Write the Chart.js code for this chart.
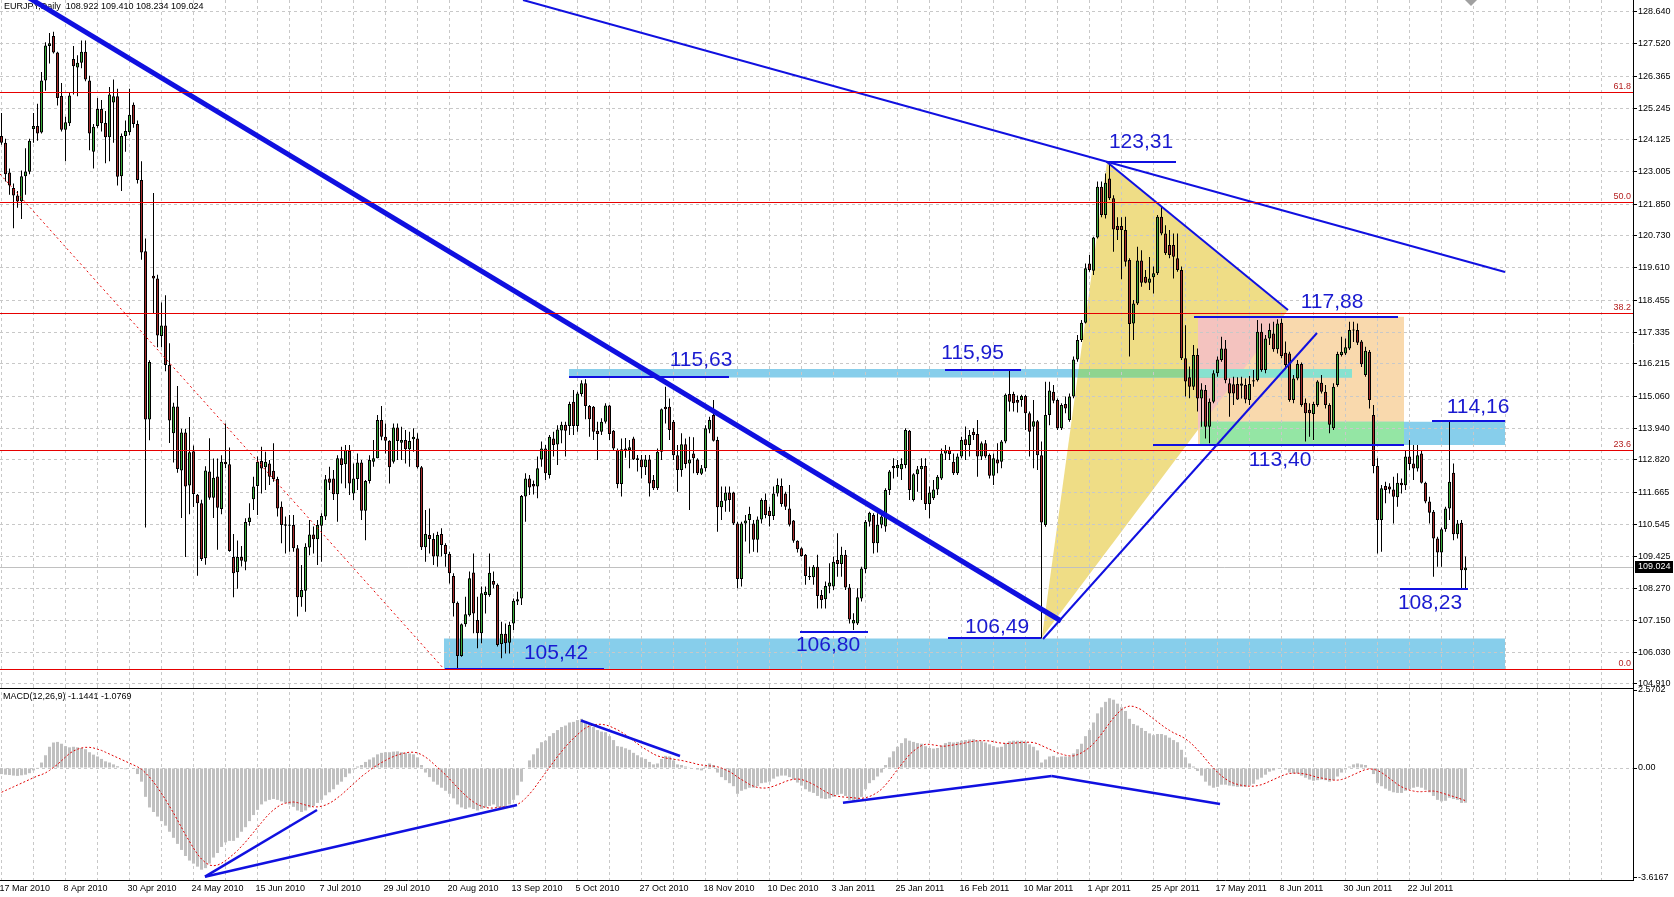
<!DOCTYPE html>
<html><head><meta charset="utf-8">
<script src="https://cdn.jsdelivr.net/npm/chart.js@4.4.1/dist/chart.umd.min.js"></script>
<style>
html,body{margin:0;padding:0;background:#fff;}
#wrap{position:relative;width:1674px;height:897px;overflow:hidden;background:#fff;}
#c1{position:absolute;left:0;top:0;}
#c2{position:absolute;left:0;top:676px;}
</style></head><body><div id="wrap"><canvas id="c1" width="1674" height="697"></canvas><canvas id="c2" width="1674" height="221"></canvas></div>
<script>
// ---------- tick labels ----------
const dateLabels = ['17 Mar 2010','8 Apr 2010','30 Apr 2010','24 May 2010','15 Jun 2010','7 Jul 2010','29 Jul 2010','20 Aug 2010','13 Sep 2010','5 Oct 2010','27 Oct 2010','18 Nov 2010','10 Dec 2010','3 Jan 2011','25 Jan 2011','16 Feb 2011','10 Mar 2011','1 Apr 2011','25 Apr 2011','17 May 2011','8 Jun 2011','30 Jun 2011','22 Jul 2011'];
const priceTicks = [128.640,127.520,126.365,125.245,124.125,123.005,121.850,120.730,119.610,118.455,117.335,116.215,115.060,113.940,112.820,111.665,110.545,109.425,108.270,107.150,106.030,104.910];
const macdTicks = [2.5702, 0, -3.6167];
const macdTickText = ['2.5702','0.00','-3.6167'];
const fibLevels = [125.82,121.93,118.01,113.16,105.43];
const fibNames = ['61.8','50.0','38.2','23.6','0.0'];
const lastPrice = 109.024;

// ---------- daily candles (bar index 0 = 17 Mar 2010) ----------
const opens = [
124.26,124.02,122.97,122.42,122.16,121.96,122.84,123.00,124.51,124.61,
124.38,126.22,127.44,127.79,127.21,125.67,124.48,124.71,126.98,126.68,
126.85,127.24,126.22,123.70,124.61,125.21,124.72,124.22,125.44,125.66,
122.84,124.26,124.39,125.36,124.68,122.71,120.19,114.25,119.33,119.23,
117.20,117.57,116.17,113.76,114.71,112.45,113.79,111.92,113.13,111.59,
111.29,109.35,112.41,111.49,112.24,111.09,112.76,112.67,109.39,108.86,
109.39,109.23,110.63,111.43,111.90,112.78,112.56,112.70,112.44,112.15,
111.17,110.55,110.52,110.52,109.70,107.97,108.20,109.73,110.19,110.02,
110.50,110.82,112.17,112.17,111.61,112.88,112.67,113.15,111.64,112.15,
112.73,111.03,112.08,112.76,112.88,114.23,113.64,113.50,112.76,113.97,
113.43,113.53,113.20,113.55,113.58,112.56,109.74,110.17,110.03,109.41,
110.21,109.82,109.50,108.72,107.78,105.90,107.02,107.34,108.85,107.17,
106.70,108.05,108.05,108.55,108.41,106.32,106.68,106.37,107.05,107.82,
107.93,111.53,112.17,111.97,111.88,112.84,113.23,112.29,113.58,113.37,
113.86,114.06,114.02,114.88,114.02,115.15,115.53,114.73,114.70,113.85,
113.82,114.17,114.74,113.85,113.17,111.97,113.23,113.17,113.58,112.88,
112.84,112.56,112.84,112.11,111.82,113.11,114.70,114.70,114.17,112.99,
112.47,113.38,112.70,113.05,112.84,112.33,112.53,113.90,114.41,113.53,
111.15,111.38,111.67,111.67,110.58,108.62,110.58,110.70,110.58,110.00,
110.72,111.41,111.03,110.84,111.64,111.90,111.64,111.11,110.68,109.97,
109.70,109.47,108.72,108.68,109.05,108.05,107.90,108.35,108.35,109.29,
109.15,109.47,108.32,107.05,107.05,107.93,108.96,110.64,110.88,109.88,
110.53,110.47,111.76,112.61,112.53,112.49,112.64,113.85,111.41,112.32,
112.49,112.61,111.27,111.47,111.78,112.17,113.05,113.17,112.76,112.35,
112.94,113.55,113.35,113.82,113.74,112.94,113.41,113.00,112.26,112.84,
112.76,113.47,115.15,115.15,114.94,114.94,115.08,114.47,113.99,114.19,
112.99,110.52,114.41,115.23,114.94,113.94,114.80,114.23,115.06,116.37,
117.06,117.67,119.76,119.50,120.68,122.47,121.47,122.76,122.06,121.08,
121.08,120.94,119.88,117.64,118.35,119.86,119.29,119.08,119.27,119.41,
121.41,120.82,120.41,120.41,119.94,119.53,116.41,115.74,115.41,116.53,
114.99,115.29,113.99,114.88,115.88,116.35,116.76,115.53,115.49,115.50,
115.52,115.47,114.94,115.64,115.64,117.35,116.00,117.11,117.29,116.73,
117.67,116.61,116.58,114.94,115.70,116.21,114.84,114.59,114.44,114.76,
115.55,115.23,114.76,113.94,115.47,116.53,116.58,116.76,117.43,117.41,
117.00,115.82,116.64,114.41,112.61,110.70,111.90,111.88,111.78,111.50,
112.02,111.93,112.94,112.70,112.52,113.05,112.02,111.35,110.99,110.05,
109.55,110.37,111.11,112.37,110.20,110.60,108.922];
const highs = [
125.07,124.16,123.11,122.58,122.32,123.04,123.83,124.16,125.07,125.40,
126.52,127.57,127.90,127.94,127.24,126.13,124.94,125.80,127.44,127.11,
127.63,127.63,126.39,124.68,125.60,125.53,125.14,125.99,126.26,125.93,
124.35,124.81,125.93,125.44,124.81,123.37,120.64,116.34,122.25,119.36,
118.38,118.64,116.94,114.84,115.43,113.92,113.92,114.34,113.33,111.62,
111.42,112.60,113.59,112.87,112.87,112.99,114.11,113.26,110.21,109.98,
109.78,110.76,111.29,112.23,112.94,113.29,113.11,112.82,113.41,112.23,
111.35,110.82,110.88,110.88,109.82,109.11,109.88,110.70,110.47,110.70,
110.94,112.29,112.58,112.47,112.99,113.29,113.35,113.35,112.70,113.05,
112.82,112.11,112.99,113.53,114.41,114.73,114.11,113.52,114.11,114.11,
113.99,113.88,113.82,113.94,113.76,112.61,111.05,111.11,110.23,110.29,
110.41,109.88,109.58,108.82,107.82,107.05,107.99,108.88,109.52,107.99,
108.35,108.35,109.52,108.88,108.46,107.11,107.05,107.11,107.93,108.17,
111.58,112.35,112.29,112.10,112.94,113.47,113.35,113.70,113.82,114.05,
114.17,114.17,114.88,115.29,115.23,115.64,115.67,114.76,114.73,114.17,
114.29,114.82,114.76,113.88,113.23,113.58,113.60,113.53,113.64,113.00,
113.00,113.00,113.00,112.29,113.23,114.64,115.41,114.99,114.23,113.35,
113.76,113.58,113.64,113.62,112.88,112.64,114.05,114.35,114.94,113.64,
111.88,111.88,111.88,111.70,110.64,110.64,110.88,111.17,110.70,110.82,
111.47,111.64,111.17,111.88,112.17,112.17,111.70,111.94,110.70,109.99,
109.74,109.50,109.05,109.11,109.47,108.23,108.53,109.17,109.41,110.23,
109.76,109.64,108.44,107.41,108.29,109.05,110.70,110.99,110.94,110.94,
110.94,111.82,112.47,112.88,112.82,112.88,113.94,113.88,112.35,112.61,
112.88,112.88,111.88,112.11,112.29,113.23,113.35,113.29,113.05,113.05,
113.64,114.00,113.88,113.94,114.23,113.47,113.53,113.05,113.05,113.41,
113.53,115.17,115.99,115.23,115.10,115.12,115.12,114.53,114.94,114.23,
113.47,115.58,115.58,115.47,114.99,114.82,115.06,115.17,116.47,117.23,
117.76,119.76,120.06,120.70,122.65,122.65,122.94,123.31,122.17,121.39,
121.39,121.41,119.94,118.47,120.35,120.23,119.53,119.99,119.65,121.47,
121.76,121.11,120.94,120.82,120.82,119.65,117.58,116.12,116.88,116.76,
115.53,115.47,114.99,115.99,116.47,117.17,117.06,115.70,115.76,115.74,
115.76,115.70,115.79,116.00,117.76,117.64,117.23,117.64,117.70,117.79,
117.82,117.00,116.64,115.82,116.35,116.26,114.99,114.82,114.88,115.64,
115.82,115.47,114.82,115.53,116.64,117.17,117.11,117.70,117.70,117.64,
117.06,116.82,116.70,114.76,112.88,111.94,112.05,112.00,112.23,112.35,
112.17,113.17,113.53,113.35,113.35,113.17,112.05,111.52,111.05,110.11,
110.44,111.17,114.16,112.70,110.70,110.70,109.410];
const lows = [
123.95,122.65,122.19,121.00,121.73,121.33,122.19,122.91,124.02,124.09,
124.35,125.86,126.82,127.17,125.34,124.42,123.37,124.61,125.73,125.66,
126.65,126.19,123.76,123.11,124.55,124.42,123.30,123.37,124.02,122.51,
122.32,123.70,124.29,124.55,122.58,119.89,110.44,113.52,117.99,116.80,
116.80,115.95,113.42,112.73,112.37,110.77,109.39,110.90,111.16,108.73,
109.25,109.12,111.42,110.77,109.65,110.90,112.54,109.58,107.97,108.27,
109.06,108.93,110.50,111.05,110.88,111.64,111.76,111.94,112.05,110.82,
109.88,109.52,109.58,109.58,107.29,107.64,107.46,109.46,109.52,109.11,
109.23,110.70,111.76,111.41,110.64,111.99,111.82,111.58,111.41,111.76,
110.70,109.99,111.99,112.58,112.88,113.52,113.05,111.99,112.70,112.82,
112.82,112.70,112.58,113.11,112.52,109.64,109.23,109.52,109.11,109.05,
109.41,109.05,108.46,107.29,105.43,105.87,106.93,107.29,106.70,106.17,
106.35,107.40,107.99,108.29,106.23,105.82,105.99,105.99,106.82,107.70,
107.70,110.64,111.58,111.60,111.47,112.58,112.11,112.17,112.94,112.64,
113.41,112.94,113.70,113.70,113.82,115.06,114.26,113.64,113.53,112.82,
113.70,114.11,113.53,113.17,111.82,111.53,112.90,112.53,112.82,112.41,
112.17,112.29,111.53,111.76,111.76,112.82,114.11,113.53,112.82,111.70,
112.23,112.53,111.05,112.35,112.29,112.29,112.41,113.76,113.47,110.29,
110.70,110.99,110.99,110.52,108.29,108.35,109.94,109.52,109.58,109.55,
110.58,110.76,110.47,110.70,111.53,111.17,111.05,110.47,109.90,109.55,
109.40,108.41,108.58,108.41,107.58,107.58,107.58,108.11,108.23,108.70,
108.70,108.23,107.05,106.82,106.99,107.82,108.82,110.47,109.52,109.55,
110.41,110.29,111.58,112.17,112.23,112.11,112.53,111.41,111.35,111.70,
111.41,111.05,110.76,111.41,111.58,112.11,112.82,112.82,112.29,112.29,
112.88,112.82,112.94,113.53,112.23,112.82,112.88,112.17,111.94,112.35,
112.53,113.41,114.53,114.53,114.50,114.70,113.88,112.94,112.53,112.47,
106.52,110.46,114.05,114.82,113.88,113.88,114.47,114.17,115.00,116.29,
116.99,117.64,119.47,119.35,120.64,121.39,121.35,122.00,120.17,120.59,
119.20,119.65,116.47,117.06,118.29,118.94,119.06,118.82,118.70,119.35,
120.76,120.06,119.94,119.23,119.47,116.35,115.06,115.00,115.29,114.53,
113.99,113.58,113.41,114.82,115.76,116.29,115.53,114.35,114.76,114.94,
114.99,114.82,114.76,115.41,115.59,115.94,115.88,116.88,116.64,116.58,
116.41,116.06,114.88,114.82,115.64,114.70,113.47,113.64,113.53,114.70,
115.17,114.64,113.76,113.88,115.41,116.47,116.53,116.70,116.99,116.88,
116.10,115.76,114.64,112.35,109.52,109.58,111.29,111.64,110.58,111.17,
111.64,111.76,112.47,112.11,112.41,111.99,111.29,110.58,108.70,109.05,
109.05,110.29,110.70,109.99,110.05,108.23,108.234];
const closes = [
124.02,122.91,122.51,122.16,121.95,122.84,123.01,124.09,124.61,124.35,
126.22,127.46,127.54,127.21,125.60,124.48,124.75,125.69,126.72,126.85,
127.24,126.26,124.35,124.59,125.21,124.71,124.22,125.73,125.66,122.82,
124.26,124.44,125.01,124.68,122.71,120.15,114.25,116.28,119.23,117.22,
117.57,116.17,114.21,114.71,112.50,113.79,111.88,113.09,111.62,111.29,
109.32,112.45,111.49,112.19,111.13,112.76,112.67,109.61,108.82,109.39,
109.26,110.63,110.79,111.88,112.76,112.52,112.76,112.23,112.15,111.11,
110.52,110.50,110.50,109.70,107.97,108.23,109.76,110.19,110.02,110.52,
110.84,112.14,112.02,111.61,112.88,112.64,113.17,111.99,112.17,112.73,
111.03,112.08,112.82,112.88,114.23,113.64,113.50,112.56,113.97,113.49,
113.53,113.20,113.49,113.64,112.56,109.74,110.21,110.03,109.41,110.17,
109.82,109.50,108.82,107.76,105.90,107.02,107.37,108.64,107.40,106.70,
108.11,108.17,108.84,108.41,106.29,106.68,106.35,106.99,107.85,107.90,
111.55,112.17,111.85,111.88,112.53,113.23,112.35,113.64,113.35,113.90,
114.06,113.85,114.80,114.02,115.17,115.53,114.73,114.26,113.82,113.74,
114.17,114.74,113.74,113.23,111.97,113.20,113.15,113.27,112.84,112.82,
112.56,112.84,111.99,111.82,113.11,114.61,114.61,113.88,112.99,112.47,
113.38,112.68,112.84,112.88,112.35,112.53,113.94,114.23,113.50,111.15,
111.38,111.67,111.41,110.58,108.62,110.58,110.68,110.91,110.00,110.72,
111.41,110.88,110.84,111.64,111.94,111.27,111.17,110.53,109.97,109.67,
109.43,108.72,108.68,109.05,108.02,107.88,108.37,108.49,109.23,109.15,
109.47,108.32,107.19,107.17,107.97,108.99,110.64,110.96,109.88,110.53,
110.82,111.76,112.41,112.53,112.64,112.68,113.88,111.76,112.32,112.49,
112.61,111.27,111.67,111.78,112.23,113.05,113.17,113.03,112.35,112.94,
113.53,113.35,113.70,113.70,112.94,113.41,112.94,112.26,112.88,112.70,
113.47,115.12,114.88,114.82,114.84,115.08,114.47,113.82,114.19,112.99,
110.61,114.41,115.27,114.91,113.94,114.76,114.64,115.06,116.37,117.06,
117.67,119.59,119.53,120.68,122.47,121.47,122.61,122.06,120.96,120.94,
120.94,119.82,117.62,118.35,119.86,119.08,119.08,119.23,119.41,121.41,
120.82,120.12,120.06,120.00,119.53,116.41,115.59,115.41,116.53,114.99,
115.31,113.99,114.88,115.88,116.37,116.76,115.64,115.17,115.17,114.96,
115.44,114.96,115.50,115.59,117.35,116.00,117.11,117.41,116.73,117.64,
116.49,116.17,114.94,115.70,116.21,114.76,114.47,114.47,114.80,115.59,
115.23,114.76,114.06,115.41,116.56,116.64,116.80,117.41,117.39,116.96,
116.20,116.68,114.94,112.61,110.70,111.82,111.76,111.78,111.52,112.02,
111.93,112.94,112.68,112.52,112.99,112.02,111.35,110.96,110.05,109.55,
110.37,111.11,112.05,110.20,110.58,108.93,109.024];

// ---------- MACD(12,26,9): main (histogram) and signal ----------
const macdMain = [
-0.20,-0.22,-0.23,-0.25,-0.26,-0.24,-0.22,-0.17,-0.08,0.02,
0.18,0.42,0.70,0.84,0.86,0.80,0.72,0.68,0.70,0.68,
0.66,0.62,0.52,0.44,0.38,0.30,0.22,0.18,0.12,0.06,
-0.02,-0.04,0.00,-0.02,-0.20,-0.45,-0.95,-1.30,-1.45,-1.60,
-1.75,-1.90,-2.10,-2.30,-2.50,-2.70,-2.90,-3.05,-3.15,-3.25,
-3.35,-3.30,-3.15,-2.95,-2.80,-2.60,-2.45,-2.40,-2.40,-2.30,
-2.10,-1.95,-1.75,-1.55,-1.38,-1.20,-1.10,-1.05,-1.02,-1.05,
-1.10,-1.15,-1.20,-1.28,-1.40,-1.45,-1.40,-1.30,-1.25,-1.15,
-1.05,-0.90,-0.80,-0.70,-0.55,-0.45,-0.30,-0.18,-0.05,0.05,
0.10,0.20,0.28,0.35,0.45,0.50,0.52,0.52,0.54,0.55,
0.52,0.50,0.48,0.45,0.35,0.10,-0.15,-0.30,-0.45,-0.55,
-0.65,-0.75,-0.85,-1.00,-1.20,-1.30,-1.35,-1.30,-1.35,-1.40,
-1.35,-1.30,-1.25,-1.20,-1.30,-1.35,-1.30,-1.20,-1.05,-0.90,
-0.45,0.00,0.25,0.45,0.65,0.85,0.90,1.05,1.15,1.25,
1.35,1.40,1.50,1.52,1.58,1.62,1.55,1.45,1.35,1.25,
1.20,1.18,1.05,0.92,0.72,0.70,0.65,0.60,0.50,0.42,
0.35,0.30,0.20,0.12,0.15,0.30,0.40,0.38,0.25,0.12,
0.10,0.05,0.02,0.00,-0.05,-0.08,0.05,0.15,0.10,-0.15,
-0.30,-0.40,-0.50,-0.60,-0.85,-0.75,-0.70,-0.65,-0.65,-0.60,
-0.50,-0.48,-0.45,-0.35,-0.28,-0.25,-0.25,-0.30,-0.38,-0.48,
-0.58,-0.70,-0.78,-0.82,-0.92,-1.00,-1.02,-1.00,-0.95,-0.88,
-0.85,-0.92,-1.05,-1.10,-1.05,-0.95,-0.70,-0.50,-0.40,-0.28,
-0.15,0.10,0.35,0.55,0.70,0.82,0.98,0.90,0.86,0.82,
0.80,0.72,0.66,0.64,0.66,0.74,0.82,0.86,0.84,0.86,
0.90,0.92,0.94,0.95,0.90,0.88,0.84,0.78,0.72,0.68,
0.70,0.82,0.88,0.90,0.90,0.90,0.86,0.78,0.70,0.58,
0.18,0.28,0.38,0.40,0.35,0.38,0.38,0.38,0.48,0.62,
0.80,1.05,1.25,1.50,1.80,2.00,2.18,2.30,2.25,2.12,
2.00,1.88,1.62,1.45,1.40,1.32,1.22,1.14,1.08,1.12,
1.12,1.08,1.00,0.92,0.85,0.60,0.35,0.15,0.05,-0.10,
-0.25,-0.45,-0.58,-0.65,-0.62,-0.55,-0.55,-0.58,-0.60,-0.62,
-0.62,-0.62,-0.58,-0.52,-0.38,-0.32,-0.22,-0.12,-0.08,-0.02,
-0.02,-0.05,-0.15,-0.18,-0.18,-0.25,-0.32,-0.38,-0.42,-0.40,
-0.38,-0.40,-0.45,-0.40,-0.28,-0.15,-0.05,0.05,0.12,0.15,
0.12,0.10,0.00,-0.20,-0.50,-0.60,-0.68,-0.75,-0.80,-0.82,
-0.82,-0.75,-0.70,-0.65,-0.62,-0.65,-0.72,-0.80,-0.92,-1.05,
-1.10,-1.08,-0.98,-1.02,-1.05,-1.15,-1.1441];
const macdSignal = [
-0.80,-0.74,-0.68,-0.62,-0.56,-0.50,-0.44,-0.38,-0.32,-0.26,
-0.22,-0.16,-0.08,0.02,0.12,0.24,0.36,0.48,0.56,0.62,
0.66,0.68,0.68,0.66,0.62,0.58,0.52,0.46,0.40,0.34,
0.28,0.22,0.16,0.10,0.04,-0.04,-0.16,-0.30,-0.46,-0.64,
-0.84,-1.04,-1.26,-1.48,-1.72,-1.96,-2.20,-2.42,-2.64,-2.84,
-3.00,-3.12,-3.20,-3.22,-3.20,-3.14,-3.05,-2.95,-2.84,-2.72,
-2.58,-2.44,-2.28,-2.12,-1.96,-1.80,-1.64,-1.50,-1.38,-1.28,
-1.20,-1.16,-1.13,-1.12,-1.14,-1.18,-1.22,-1.25,-1.28,-1.28,
-1.26,-1.22,-1.16,-1.08,-0.98,-0.88,-0.76,-0.64,-0.52,-0.40,
-0.28,-0.18,-0.08,0.02,0.10,0.18,0.25,0.32,0.38,0.43,
0.47,0.50,0.52,0.52,0.50,0.44,0.36,0.26,0.14,0.02,
-0.10,-0.22,-0.36,-0.50,-0.64,-0.78,-0.90,-1.02,-1.12,-1.20,
-1.26,-1.30,-1.32,-1.32,-1.30,-1.28,-1.28,-1.26,-1.24,-1.20,
-1.12,-1.00,-0.86,-0.70,-0.52,-0.34,-0.16,0.02,0.20,0.38,
0.54,0.70,0.84,0.98,1.10,1.22,1.32,1.38,1.42,1.44,
1.44,1.42,1.38,1.32,1.26,1.18,1.10,1.00,0.90,0.80,
0.70,0.62,0.54,0.46,0.40,0.36,0.33,0.31,0.29,0.27,
0.25,0.22,0.19,0.16,0.12,0.10,0.08,0.07,0.06,0.04,
0.00,-0.06,-0.12,-0.20,-0.30,-0.38,-0.46,-0.54,-0.60,-0.64,
-0.66,-0.66,-0.64,-0.60,-0.55,-0.50,-0.44,-0.40,-0.37,-0.36,
-0.38,-0.42,-0.48,-0.54,-0.62,-0.70,-0.78,-0.85,-0.90,-0.93,
-0.95,-0.96,-0.97,-0.98,-1.00,-1.00,-0.98,-0.94,-0.88,-0.80,
-0.70,-0.56,-0.40,-0.22,-0.05,0.12,0.28,0.44,0.56,0.66,
0.74,0.78,0.78,0.76,0.74,0.72,0.72,0.74,0.76,0.78,
0.80,0.83,0.86,0.88,0.90,0.90,0.90,0.89,0.87,0.84,
0.82,0.81,0.81,0.82,0.83,0.84,0.85,0.85,0.84,0.80,
0.74,0.68,0.62,0.56,0.50,0.46,0.42,0.40,0.40,0.44,
0.50,0.58,0.68,0.80,0.95,1.12,1.30,1.48,1.65,1.80,
1.92,2.00,2.04,2.03,1.98,1.92,1.82,1.72,1.62,1.52,
1.42,1.32,1.24,1.16,1.10,1.04,0.96,0.86,0.74,0.60,
0.46,0.30,0.14,0.00,-0.14,-0.26,-0.36,-0.44,-0.50,-0.54,
-0.57,-0.59,-0.60,-0.60,-0.58,-0.55,-0.50,-0.44,-0.38,-0.32,
-0.26,-0.21,-0.18,-0.17,-0.17,-0.18,-0.20,-0.23,-0.27,-0.31,
-0.33,-0.36,-0.38,-0.40,-0.40,-0.38,-0.34,-0.28,-0.22,-0.16,
-0.10,-0.05,-0.03,-0.04,-0.08,-0.15,-0.24,-0.34,-0.44,-0.54,
-0.62,-0.68,-0.73,-0.76,-0.78,-0.78,-0.77,-0.76,-0.76,-0.78,
-0.82,-0.86,-0.90,-0.94,-0.98,-1.03,-1.0769];

// ---------- drawn objects (bar index, price) ----------
const trendLines = [ // [i1, p1, i2, p2, width]
  [6.5,129.17,264.875,107.134,5],
  [130.375,129.063,375.875,119.458,2],
  [276.375,123.343,321.625,118.117,2],
  [260.375,106.50,328.875,117.304,2]
];
const fibDiagonal = [-0.375,122.919,110.625,105.439];
const levelLines = [ // [i1, i2, price]
  [141.875,181.875,115.768],[235.875,254.875,115.99],[110.875,150.625,105.425],
  [199.625,216.625,106.757],[236.625,259.875,106.52],[276.125,293.625,123.343],
  [298.125,349.125,117.88],[287.875,350.625,113.35],[357.625,375.875,114.203],
  [349.625,366.625,108.254]
];
const levelTexts = [ // [text, i, price]
  ['115,63',174.875,116.35],['115,95',242.775,116.584],['105,42',138.625,106.004],
  ['106,80',206.625,106.287],['106,49',248.875,106.93],['123,31',284.875,124.049],
  ['117,88',332.625,118.399],['113,40',319.625,112.819],['114,16',369.125,114.691],
  ['108,23',357.125,107.77]
];
const triangle = [[260.1,106.55],[276.375,123.34],[321.625,118.12]];
const orangeRect = [299.125,350.625,117.88,113.35];
const band1 = [141.875,337.625,116.03,115.73];
const band2 = [110.625,375.875,106.52,105.43];
const band3 = [299.625,375.875,114.17,113.35];
const macdLines = [ // [i1, v1, i2, v2]
  [50.875,-3.58,78.875,-1.384],[50.875,-3.58,128.875,-1.219],[144.875,1.565,169.625,0.395],
  [210.375,-1.147,262.525,-0.264],[262.525,-0.264,304.625,-1.186]
];

// ---------- styling ----------
const FONT = '"Liberation Sans", Arial, sans-serif';
const BULL = '#3aaa3a', BEAR = '#a52a2a';
const GRID = '#c8c8c8';
const BLUE = '#1010e0', TXTBLUE = '#1a1ad0', FIBRED = 'rgb(230,0,0)';
const C_YELLOW = '#efdd86', C_ORANGE = '#f9d9ad', C_PINK = '#f4c3bf', C_SKY = '#87ceeb',
      C_GREEN1 = '#8fd48f', C_TEAL = '#86e2cf', C_GREEN2 = '#94e6a4';

const gridBars = []; for (let v = 0; v <= 400; v += 8) gridBars.push(v);
const idx = closes.map((_, i) => i);

function zeroPad(s){ s.paddingTop=0; s.paddingBottom=0; s.paddingLeft=0; s.paddingRight=0; }

const pricePlugin = {
  id: 'priceObjects',
  beforeDraw(chart) {
    const {ctx, chartArea: a, scales: {x, y}} = chart;
    const X = v => x.getPixelForValue(v), Y = v => y.getPixelForValue(v);
    const poly = pts => { ctx.beginPath(); pts.forEach(([i,p],k) => k ? ctx.lineTo(X(i),Y(p)) : ctx.moveTo(X(i),Y(p))); ctx.closePath(); };
    const rect = r => { ctx.beginPath(); ctx.rect(X(r[0]), Y(r[2]), X(r[1])-X(r[0]), Y(r[3])-Y(r[2])); };
    const fillIn = (shape, clipFn, color) => { ctx.save(); if (clipFn) { clipFn(); ctx.clip(); } shape(); ctx.fillStyle = color; ctx.fill(); ctx.restore(); };
    ctx.save();
    ctx.beginPath(); ctx.rect(a.left, a.top, a.right-a.left, a.bottom-a.top); ctx.clip();
    fillIn(() => poly(triangle), null, C_YELLOW);
    fillIn(() => rect(orangeRect), null, C_ORANGE);
    fillIn(() => rect(orangeRect), () => poly(triangle), C_PINK);
    fillIn(() => rect(band1), null, C_SKY);
    fillIn(() => rect(band1), () => poly(triangle), C_GREEN1);
    fillIn(() => rect(band1), () => rect(orangeRect), C_TEAL);
    fillIn(() => rect(band2), null, C_SKY);
    fillIn(() => rect(band3), null, C_SKY);
    fillIn(() => rect(band3), () => rect(orangeRect), C_GREEN2);
    ctx.restore();
  },
  beforeDatasetsDraw(chart) {
    const {ctx, chartArea: a, scales: {y}} = chart;
    const yy = Math.round(y.getPixelForValue(lastPrice)) + 0.5;
    ctx.save();
    ctx.strokeStyle = '#c0c0c0'; ctx.lineWidth = 1; ctx.setLineDash([]);
    ctx.beginPath(); ctx.moveTo(a.left, yy); ctx.lineTo(a.right, yy); ctx.stroke();
    ctx.restore();
  },
  afterDatasetsDraw(chart) {
    const {ctx, chartArea: a, scales: {x, y}} = chart;
    const X = v => x.getPixelForValue(v), Y = v => y.getPixelForValue(v);
    ctx.save();
    ctx.beginPath(); ctx.rect(a.left, a.top, a.right-a.left, a.bottom-a.top); ctx.clip();
    ctx.setLineDash([]);
    ctx.fillStyle = '#000'; ctx.font = '9px ' + FONT; ctx.textBaseline = 'middle'; ctx.textAlign = 'left';
    ctx.fillText('EURJPY,Daily  108.922 109.410 108.234 109.024', 4, 7);
    ctx.save();
    ctx.strokeStyle = FIBRED; ctx.lineWidth = 1; ctx.setLineDash([2,3]);
    ctx.beginPath(); ctx.moveTo(X(fibDiagonal[0]), Y(fibDiagonal[1])); ctx.lineTo(X(fibDiagonal[2]), Y(fibDiagonal[3])); ctx.stroke();
    ctx.restore();
    ctx.strokeStyle = BLUE; ctx.lineCap = 'butt';
    trendLines.forEach(t => {
      ctx.lineWidth = t[4];
      ctx.beginPath(); ctx.moveTo(X(t[0]), Y(t[1])); ctx.lineTo(X(t[2]), Y(t[3])); ctx.stroke();
    });
    ctx.lineWidth = 2;
    levelLines.forEach(l => {
      const yy = Math.round(Y(l[2]));
      ctx.beginPath(); ctx.moveTo(X(l[0]), yy); ctx.lineTo(X(l[1]), yy); ctx.stroke();
    });
    ctx.fillStyle = TXTBLUE; ctx.font = '21px ' + FONT; ctx.textAlign = 'center'; ctx.textBaseline = 'middle';
    levelTexts.forEach(t => ctx.fillText(t[0], X(t[1]), Y(t[2])));
    ctx.restore();
  },
  afterDraw(chart) {
    const {ctx, chartArea: a, scales: {y}} = chart;
    ctx.save();
    // fibonacci levels on top of everything in the pane
    fibLevels.forEach((lv, k) => {
      const yy = Math.round(y.getPixelForValue(lv));
      ctx.fillStyle = FIBRED;
      ctx.fillRect(a.left, yy, a.right - a.left, 1);
      ctx.fillStyle = '#b41e1e'; ctx.font = '9px ' + FONT; ctx.textAlign = 'right'; ctx.textBaseline = 'bottom';
      ctx.fillText(fibNames[k], a.right - 2, yy - 1);
    });
    const yy = Math.round(y.getPixelForValue(lastPrice));
    ctx.fillStyle = '#000';
    ctx.fillRect(a.right + 2, yy - 6, 38, 12);
    ctx.fillStyle = '#fff'; ctx.font = '9px ' + FONT; ctx.textBaseline = 'middle'; ctx.textAlign = 'left';
    ctx.fillText(lastPrice.toFixed(3), a.right + 5, yy);
    ctx.fillStyle = '#a0a0a0';
    ctx.beginPath(); ctx.moveTo(1465, 0); ctx.lineTo(1477, 0); ctx.lineTo(1471, 6); ctx.closePath(); ctx.fill();
    ctx.restore();
  }
};

const macdPlugin = {
  id: 'macdObjects',
  afterDatasetsDraw(chart) {
    const {ctx, chartArea: a, scales: {x, y}} = chart;
    const X = v => x.getPixelForValue(v), Y = v => y.getPixelForValue(v);
    ctx.save();
    ctx.beginPath(); ctx.rect(a.left, a.top, a.right-a.left, a.bottom-a.top); ctx.clip();
    ctx.setLineDash([]);
    ctx.strokeStyle = BLUE; ctx.lineWidth = 2.5;
    macdLines.forEach(l => { ctx.beginPath(); ctx.moveTo(X(l[0]), Y(l[1])); ctx.lineTo(X(l[2]), Y(l[3])); ctx.stroke(); });
    ctx.fillStyle = '#000'; ctx.font = '9px ' + FONT; ctx.textAlign = 'left'; ctx.textBaseline = 'middle';
    ctx.fillText('MACD(12,26,9) -1.1441 -1.0769', 3, a.top + 11);
    ctx.restore();
    ctx.save();
    ctx.fillStyle = '#000';
    ctx.fillRect(a.left, a.top + 2, a.right - a.left, 1);
    ctx.restore();
  }
};

const xCommon = {
  type: 'linear', min: -0.375, max: 407.875, offset: false,
  afterBuildTicks(s) { s.ticks = gridBars.map(v => ({value: v})); }
};

new Chart(document.getElementById('c1'), {
  type: 'bar',
  data: { datasets: [
    { data: idx.map(i => ({x: i, y: [opens[i], closes[i]]})), backgroundColor: idx.map(i => closes[i] >= opens[i] ? BULL : BEAR),
      borderColor: '#000', borderWidth: 1, borderSkipped: false, barThickness: 3, minBarLength: 1, grouped: false, inflateAmount: 0 },
    { data: idx.map(i => ({x: i, y: [lows[i], highs[i]]})), backgroundColor: '#000', borderWidth: 0, barThickness: 1, grouped: false, inflateAmount: 0 }
  ]},
  options: {
    responsive: false, animation: false, events: [],
    layout: { padding: { left: 0, right: 0, top: 0, bottom: 11 } },
    plugins: { legend: { display: false }, tooltip: { enabled: false } },
    scales: {
      x: Object.assign({}, xCommon, {
        grid: { offset: false, color: GRID, drawTicks: false },
        border: { display: false, dash: [3,3] },
        ticks: { display: false },
        afterFit(s) { s.height = 0; zeroPad(s); }
      }),
      y: {
        type: 'linear', position: 'right', min: 104.839, max: 129.063,
        grid: { color: GRID, tickColor: '#000', tickLength: 4, drawTicks: true },
        border: { display: true, color: '#000', dash: [3,3] },
        ticks: { padding: 1, color: '#000', font: { family: FONT, size: 9 }, autoSkip: false, callback: v => v.toFixed(3) },
        afterBuildTicks(s) { s.ticks = priceTicks.map(v => ({value: v})); },
        afterFit(s) { s.width = 41; zeroPad(s); }
      }
    }
  },
  plugins: [pricePlugin]
});

new Chart(document.getElementById('c2'), {
  type: 'bar',
  data: { datasets: [
    { type: 'line', data: idx.map(i => ({x: i, y: macdSignal[i]})), borderColor: '#e00000', borderWidth: 1, borderDash: [2,2], pointRadius: 0, tension: 0, fill: false },
    { data: idx.map(i => ({x: i, y: macdMain[i]})), backgroundColor: '#c0c0c0', borderWidth: 0, barThickness: 3, grouped: false, inflateAmount: 0 }
  ]},
  options: {
    responsive: false, animation: false, events: [],
    layout: { padding: { left: 0, right: 0, top: 10, bottom: 0 } },
    plugins: { legend: { display: false }, tooltip: { enabled: false } },
    scales: {
      x: Object.assign({}, xCommon, {
        position: 'bottom',
        grid: { offset: false, color: GRID, drawTicks: false },
        border: { display: true, color: '#000', dash: [3,3] },
        ticks: { display: true, autoSkip: false, maxRotation: 0, minRotation: 0, align: 'start', labelOffset: -2, padding: 3, color: '#000',
                 font: { family: FONT, size: 9 }, callback: v => (v % 16 === 0 && dateLabels[v / 16]) ? dateLabels[v / 16] : '' },
        afterFit(s) { s.height = 17; zeroPad(s); }
      }),
      y: {
        type: 'linear', position: 'right', min: -3.690, max: 2.702,
        grid: { color: c => (c.tick && c.tick.value === 0) ? GRID : 'rgba(0,0,0,0)', tickColor: '#000', tickLength: 4 },
        border: { display: true, color: '#000', dash: [3,3] },
        ticks: { padding: 1, color: '#000', font: { family: FONT, size: 9 }, autoSkip: false, callback: (v, i) => macdTickText[i] },
        afterBuildTicks(s) { s.ticks = macdTicks.map(v => ({value: v})); },
        afterFit(s) { s.width = 41; zeroPad(s); }
      }
    }
  },
  plugins: [macdPlugin]
});
</script></body></html>
